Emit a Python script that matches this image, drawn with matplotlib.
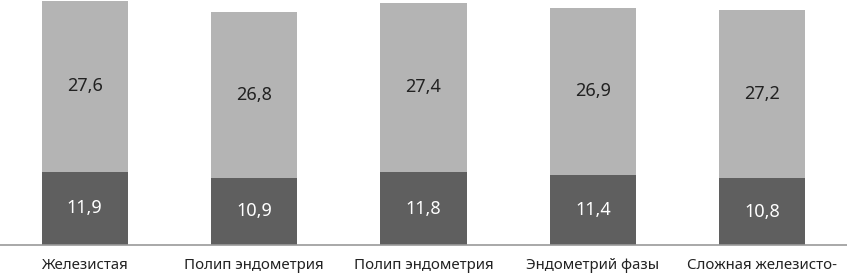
import matplotlib
matplotlib.use("Agg")
import matplotlib.pyplot as plt
import numpy as np

categories = ["Железистая", "Полип эндометрия", "Полип эндометрия", "Эндометрий фазы", "Сложная железисто-"]
bottom_vals = [11.9, 10.9, 11.8, 11.4, 10.8]
top_vals = [27.6, 26.8, 27.4, 26.9, 27.2]

plt.rcParams['font.family'] = ['Noto Sans', 'DejaVu Sans']

fig = plt.figure(figsize=(8.47, 2.75), dpi=100)
ax = fig.add_axes([0, 0.109, 1, 0.891])

x = np.arange(len(categories))
w = 0.51
dark = "#5f5f5f"
light = "#b4b4b4"
b1 = ax.bar(x, bottom_vals, width=w, color=dark)
b2 = ax.bar(x, top_vals, width=w, bottom=bottom_vals, color=light)

for xi, bv, tv in zip(x, bottom_vals, top_vals):
    ax.text(xi, bv / 2, f"{bv:.1f}".replace(".", ","), ha="center", va="center",
            color="white", fontsize=13)
    ax.text(xi, bv + tv / 2, f"{tv:.1f}".replace(".", ","), ha="center", va="center",
            color="#222222", fontsize=13)

ax.set_xlim(-0.5, len(categories) - 0.5)
ax.set_ylim(0, 39.66)
ax.set_xticks(x)
ax.set_xticklabels(categories, fontsize=10.8, color="#222222")
ax.tick_params(axis="x", length=0, pad=9)
ax.set_yticks([])
for s in ["top", "left", "right"]:
    ax.spines[s].set_visible(False)
ax.spines["bottom"].set_color("#999999")
ax.spines["bottom"].set_linewidth(1.2)

fig.savefig("out.png", dpi=100)
